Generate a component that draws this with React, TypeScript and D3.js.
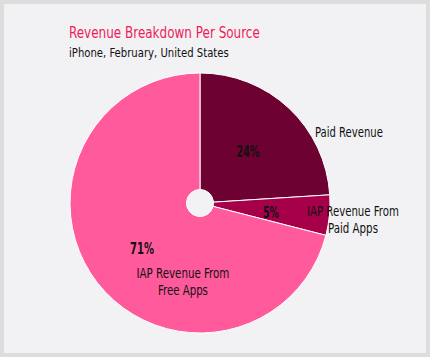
import React, { useEffect, useRef } from "react";
import * as d3 from "d3";

const categories = ["Paid Revenue", "IAP Revenue From Paid Apps", "IAP Revenue From Free Apps"];
const values = [24, 5, 71];
const colors = ["#6d0131", "#a6004b", "#ff5a9c"];
const labelLines = [["Paid Revenue"], ["IAP Revenue From", "Paid Apps"], ["IAP Revenue From", "Free Apps"]];
const titleText = "Revenue Breakdown Per Source";
const subtitleText = "iPhone, February, United States";

const W = 431, H = 359;
const cx = 200, cy = 203, R = 130, r0 = 13.5;
const font = "'DejaVu Sans Condensed', 'Liberation Sans Narrow', sans-serif";

const pctPos = [[248, 157], [271, 218], [142, 254]];
const pctW = [23, 16, 24];
const labelPos = [[349, 137], [353, 216], [183, 278]];
const lineW = [[68], [92, 50], [93, 50]];

// draw text horizontally squeezed to a target width, left edge at x0
function fitText(g: d3.Selection<SVGGElement, unknown, null, undefined>, str: string, x0: number, y: number, w: number, size: number, weight: string, fill: string) {
  const t = g.append("text")
    .attr("font-family", font)
    .attr("font-size", size)
    .attr("font-weight", weight)
    .attr("fill", fill)
    .text(str);
  const nat = (t.node() as SVGTextElement).getComputedTextLength() || w;
  t.attr("transform", `translate(${x0},${y}) scale(${w / nat},1)`);
}

export default function App() {
  const ref = useRef<SVGSVGElement>(null);
  useEffect(() => {
    const svg = d3.select(ref.current);
    svg.selectAll("*").remove();
    svg.append("rect").attr("x", 2).attr("y", 2).attr("width", 426).attr("height", 353)
      .attr("fill", "#f2f2f4").attr("stroke", "#dddddd").attr("stroke-width", 4);

    const tg = svg.append("g") as any;
    fitText(tg, titleText, 69, 38, 191, 15.5, "normal", "#ee1c5a");
    fitText(tg, subtitleText, 69, 57, 160, 12.5, "normal", "#111");

    const pie = d3.pie<number>().sort(null).value((d) => d)(values);
    const arc = d3.arc<d3.PieArcDatum<number>>().innerRadius(r0).outerRadius(R);
    const pg = svg.append("g").attr("transform", `translate(${cx},${cy})`);
    pg.selectAll("path").data(pie).join("path")
      .attr("d", (d) => arc(d) || "")
      .attr("fill", (_d, i) => colors[i])
      .attr("stroke", "#ffffff").attr("stroke-width", 1)
      .append("title").text((_d, i) => categories[i]);
    pg.append("circle").attr("r", r0).attr("fill", "#f2f2f4");

    const lg = svg.append("g") as any;
    values.forEach((v, i) => {
      fitText(lg, `${v}%`, pctPos[i][0] - pctW[i] / 2, pctPos[i][1], pctW[i], 15, "bold", "#111");
    });
    labelLines.forEach((lines, i) => {
      lines.forEach((ln, j) => {
        fitText(lg, ln, labelPos[i][0] - lineW[i][j] / 2, labelPos[i][1] + j * 17, lineW[i][j], 14, "normal", "#111");
      });
    });
  }, []);
  return <svg ref={ref} width={W} height={H} style={{ position: "absolute", left: 0, top: 0 }} />;
}
